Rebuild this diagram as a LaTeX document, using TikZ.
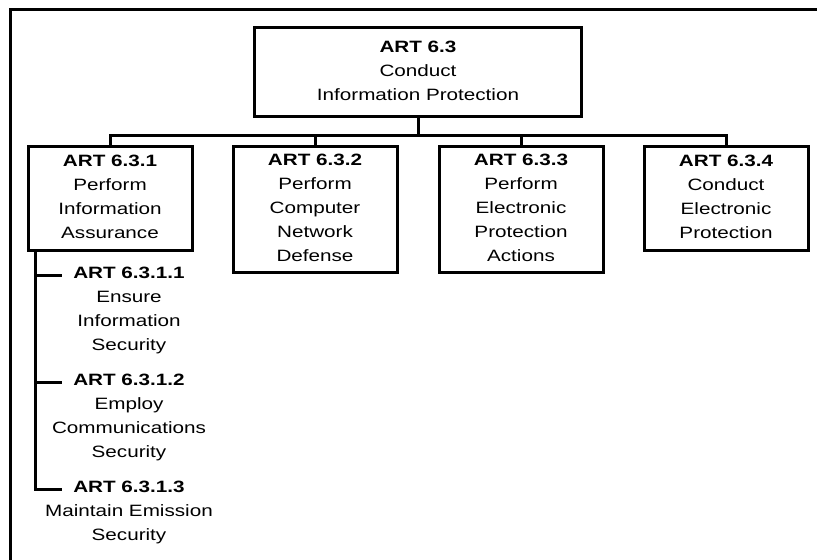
\documentclass[tikz,border=0pt]{standalone}
\usepackage{fontspec}
\usepackage{graphicx}
\setmainfont{Liberation Sans}
\usetikzlibrary{positioning}
\newcommand{\boxtext}[1]{\scalebox{1.26}[1]{\begin{tabular}{@{}c@{}}#1\end{tabular}}}

\begin{document}
\begin{tikzpicture}[x=0.75pt,y=-0.75pt,bx/.style={draw,line width=2.25pt,minimum width=123pt,minimum height=78pt,anchor=north,inner sep=0pt,outer sep=0pt,font=\fontsize{12.3}{18}\selectfont},sb/.style={inner sep=0pt,outer sep=0pt,font=\fontsize{12.3}{18}\selectfont},ln/.style={line width=2.25pt}]
\useasboundingbox (0,0) rectangle (817,560);
\draw[line width=2.25pt] (10,560) -- (10,10) -- (817,10);
\node (top) [bx,anchor=center,minimum width=245.25pt,minimum height=66pt] at (418,72) {\boxtext{\textbf{ART 6.3}\\Conduct\\Information Protection}};
\node (b1) [bx] at (110,146) {\boxtext{\textbf{ART 6.3.1}\\Perform\\Information\\Assurance}};
\node (b2) [bx,right=30.75pt of b1.north east,anchor=north west,minimum height=94.5pt] {\boxtext{\textbf{ART 6.3.2}\\Perform\\Computer\\Network\\Defense}};
\node (b3) [bx,right=31.5pt of b2.north east,anchor=north west,minimum height=94.5pt] {\boxtext{\textbf{ART 6.3.3}\\Perform\\Electronic\\Protection\\Actions}};
\node (b4) [bx,right=30.75pt of b3.north east,anchor=north west] {\boxtext{\textbf{ART 6.3.4}\\Conduct\\Electronic\\Protection}};
\node (s1) [sb,below=8.7pt of b1,xshift=14.25pt] {\boxtext{\textbf{ART 6.3.1.1}\\Ensure\\Information\\Security}};
\node (s2) [sb,below=8.3pt of s1] {\boxtext{\textbf{ART 6.3.1.2}\\Employ\\Communications\\Security}};
\node (s3) [sb,below=8.3pt of s2] {\boxtext{\textbf{ART 6.3.1.3}\\Maintain Emission\\Security}};
\coordinate (bus) at ([yshift=-14.25pt]top.south);
\coordinate (sp) at ([xshift=5.25pt]b1.south west);
\coordinate (k1) at ([xshift=-50.25pt,yshift=-10.1pt]s1.north);
\coordinate (k2) at ([xshift=-50.25pt,yshift=-10.1pt]s2.north);
\coordinate (k3) at ([xshift=-50.25pt,yshift=-10.1pt]s3.north);
\draw[ln] (top.south) -- (bus);
\draw[ln] (b1.north) |- (bus) -| (b4.north);
\draw[ln] (b2.north |- bus) -- (b2.north);
\draw[ln] (b3.north |- bus) -- (b3.north);
\draw[ln] (sp) |- (k3);
\draw[ln] (sp |- k1) -- (k1);
\draw[ln] (sp |- k2) -- (k2);
\end{tikzpicture}
\end{document}
